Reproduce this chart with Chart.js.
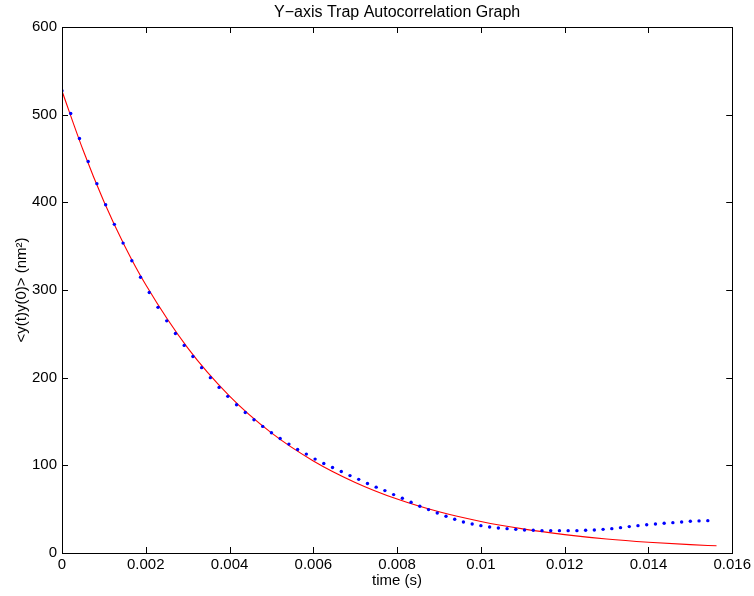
<!DOCTYPE html>
<html>
<head>
<meta charset="utf-8">
<script src="https://cdn.jsdelivr.net/npm/chart.js@4"></script>
<style>
  body { margin: 0; background: #fff; }
  #wrap { width: 754px; height: 596px; }
</style>
</head>
<body>
<div id="wrap"><canvas id="myChart" width="754" height="596"></canvas></div>
<script>
// measured autocorrelation, one point per sample (1/4800 s)
const sampleTimes = [
  0, 0.000208, 0.000417, 0.000625, 0.000833, 0.001042, 0.00125, 0.001458, 0.001667, 0.001875,
  0.002083, 0.002292, 0.0025, 0.002708, 0.002917, 0.003125, 0.003333, 0.003542, 0.00375, 0.003958,
  0.004167, 0.004375, 0.004583, 0.004792, 0.005, 0.005208, 0.005417, 0.005625, 0.005833, 0.006042,
  0.00625, 0.006458, 0.006667, 0.006875, 0.007083, 0.007292, 0.0075, 0.007708, 0.007917, 0.008125,
  0.008333, 0.008542, 0.00875, 0.008958, 0.009167, 0.009375, 0.009583, 0.009792, 0.01, 0.010208,
  0.010417, 0.010625, 0.010833, 0.011042, 0.01125, 0.011458, 0.011667, 0.011875, 0.012083, 0.012292,
  0.0125, 0.012708, 0.012917, 0.013125, 0.013333, 0.013542, 0.01375, 0.013958, 0.014167, 0.014375,
  0.014583, 0.014792, 0.015, 0.015208, 0.015417
];
const sampleValues = [
  527.2, 501.4, 472.8, 446.5, 421.3, 397.3, 374.9, 353.5, 333.3, 314.6,
  297.1, 280.2, 264.8, 250.3, 236.8, 224.2, 211.4, 200.0, 188.9, 178.7,
  169.1, 160.3, 152.0, 144.4, 137.1, 130.6, 124.2, 118.1, 112.8, 107.1,
  102.1, 97.5, 92.9, 88.3, 84.0, 79.2, 75.1, 71.2, 66.6, 62.5,
  57.9, 53.3, 49.5, 45.7, 41.9, 38.5, 35.4, 33.1, 31.2, 29.7,
  28.6, 27.8, 27.0, 26.3, 25.9, 25.5, 25.5, 25.5, 25.5, 25.5,
  25.9, 26.3, 27.0, 27.8, 28.9, 30.1, 31.2, 32.3, 33.1, 33.9,
  34.6, 35.4, 36.2, 36.6, 36.9
];

// red fitted curve
const fitTimes = [0, 0.0005, 0.001, 0.0015, 0.002, 0.003, 0.004, 0.005, 0.006, 0.007,
  0.008, 0.009, 0.01, 0.011, 0.012, 0.013, 0.014, 0.015, 0.015625];
const fitValues = [527, 460, 401, 350, 306, 234, 179, 137, 105, 80.5,
  61.5, 47, 36, 27.5, 21, 16, 12.3, 9.5, 8.2];

const xTicks = [0, 0.002, 0.004, 0.006, 0.008, 0.01, 0.012, 0.014, 0.016];
const yTicks = [0, 100, 200, 300, 400, 500, 600];

const fontFamily = '"Liberation Sans", Arial, Helvetica, sans-serif';

// matlab style box with inward ticks on all four sides
const boxPlugin = {
  id: 'boxPlugin',
  afterDatasetsDraw(chart) {
    const ctx = chart.ctx;
    const a = chart.chartArea;
    const xs = chart.scales.x;
    const ys = chart.scales.y;
    const len = 6;
    ctx.save();
    ctx.strokeStyle = '#000';
    ctx.lineWidth = 1;
    ctx.beginPath();
    xTicks.forEach(v => {
      const px = Math.round(xs.getPixelForValue(v)) + 0.5;
      ctx.moveTo(px, a.bottom); ctx.lineTo(px, a.bottom - len);
      ctx.moveTo(px, a.top); ctx.lineTo(px, a.top + len);
    });
    yTicks.forEach(v => {
      const py = Math.round(ys.getPixelForValue(v)) + 0.5;
      ctx.moveTo(a.left, py); ctx.lineTo(a.left + len, py);
      ctx.moveTo(a.right, py); ctx.lineTo(a.right - len, py);
    });
    ctx.stroke();
    ctx.strokeRect(Math.round(a.left) + 0.5, Math.round(a.top) + 0.5,
      Math.round(a.right - a.left), Math.round(a.bottom - a.top));
    ctx.restore();
  }
};

const canva = document.getElementById('myChart').getContext('2d');
const myChart = new Chart(canva, {
  type: 'scatter',
  data: {
    datasets: [{
      label: 'data',
      data: sampleTimes.map((t, i) => ({ x: t, y: sampleValues[i] })),
      showLine: false,
      pointRadius: 1.7,
      pointBorderWidth: 0,
      backgroundColor: '#0000ff',
      borderColor: '#0000ff'
    }, {
      label: 'fit',
      data: fitTimes.map((t, i) => ({ x: t, y: fitValues[i] })),
      showLine: true,
      pointRadius: 0,
      borderColor: '#ff0000',
      borderWidth: 1.1,
      cubicInterpolationMode: 'monotone'
    }]
  },
  options: {
    responsive: false,
    animation: false,
    layout: { padding: { left: 0, right: 20, top: 0, bottom: 0 } },
    plugins: {
      legend: { display: false },
      tooltip: { enabled: false },
      title: {
        display: true,
        fullSize: false,
        text: 'Y−axis Trap Autocorrelation Graph',
        color: '#000',
        font: { family: fontFamily, size: 16, weight: 'normal' },
        padding: { top: 3, bottom: 4.8 }
      }
    },
    scales: {
      x: {
        type: 'linear',
        min: 0,
        max: 0.016,
        afterBuildTicks: s => { s.ticks = xTicks.map(v => ({ value: v })); },
        afterFit: s => { s.height = 43; },
        ticks: {
          color: '#000',
          padding: 3,
          maxRotation: 0,
          font: { family: fontFamily, size: 15 },
          callback: v => String(Number(v.toFixed(3)))
        },
        grid: { drawOnChartArea: false, drawTicks: false },
        border: { display: true, color: '#000' },
        title: {
          display: true,
          text: 'time (s)',
          color: '#000',
          font: { family: fontFamily, size: 15 },
          padding: { top: 0, bottom: 6 }
        }
      },
      y: {
        min: 0,
        max: 600,
        afterBuildTicks: s => { s.ticks = yTicks.map(v => ({ value: v })); },
        afterFit: s => { s.width = 62; },
        ticks: {
          color: '#000',
          padding: 5,
          font: { family: fontFamily, size: 15 }
        },
        grid: { drawOnChartArea: false, drawTicks: false },
        border: { display: true, color: '#000' },
        title: {
          display: true,
          text: '<y(t)y(0)> (nm²)',
          color: '#000',
          font: { family: fontFamily, size: 15 },
          padding: { top: 13, bottom: 0 }
        }
      }
    }
  },
  plugins: [boxPlugin]
});
</script>
</body>
</html>
